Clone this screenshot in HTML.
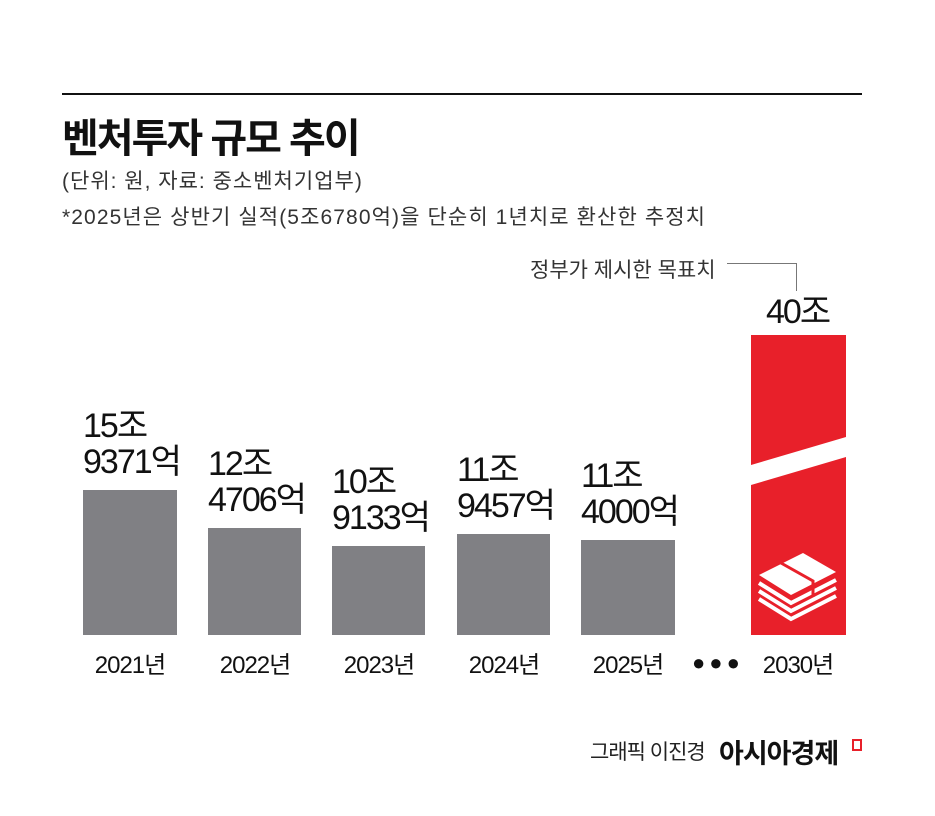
<!DOCTYPE html>
<html><head><meta charset="utf-8"><style>
body{margin:0;background:#fff;width:935px;height:816px;position:relative;overflow:hidden;font-family:"Liberation Sans","Noto Sans CJK KR",sans-serif;color:#111}
.a{position:absolute;white-space:nowrap}
.bar{position:absolute;background:#808084}
.lab{position:absolute;font-size:34px;line-height:36px;letter-spacing:-2px;text-align:left}
.yr{position:absolute;top:645px;font-size:24px;letter-spacing:-1px;width:120px;text-align:center}
</style></head><body>
<div class="a" style="left:62px;top:93px;width:800px;height:2px;background:#111"></div>
<div class="a" style="left:62px;top:106px;font-size:40px;font-weight:bold;letter-spacing:-2px">벤처투자 규모 추이</div>
<div class="a" style="left:62px;top:165px;font-size:21px;color:#333;letter-spacing:1px">(단위: 원, 자료: 중소벤처기업부)</div>
<div class="a" style="left:62px;top:201px;font-size:21px;color:#333;letter-spacing:1.1px">*2025년은 상반기 실적(5조6780억)을 단순히 1년치로 환산한 추정치</div>
<div class="a" style="left:530px;top:254px;font-size:21px;color:#333;letter-spacing:0px">정부가 제시한 목표치</div>
<div class="a" style="left:727px;top:263px;width:70px;height:1px;background:#777"></div>
<div class="a" style="left:796px;top:263px;width:1px;height:28px;background:#777"></div>

<div class="bar" style="left:83px;top:490px;width:94px;height:145px"></div>
<div class="bar" style="left:208px;top:528px;width:93px;height:107px"></div>
<div class="bar" style="left:332px;top:546px;width:93px;height:89px"></div>
<div class="bar" style="left:457px;top:534px;width:93px;height:101px"></div>
<div class="bar" style="left:581px;top:540px;width:94px;height:95px"></div>

<div class="lab" style="left:83px;top:408px">15조<br>9371억</div>
<div class="lab" style="left:208px;top:446px">12조<br>4706억</div>
<div class="lab" style="left:332px;top:464px">10조<br>9133억</div>
<div class="lab" style="left:457px;top:452px">11조<br>9457억</div>
<div class="lab" style="left:581px;top:458px">11조<br>4000억</div>
<div class="lab" style="left:766px;top:294px">40조</div>

<svg class="a" style="left:751px;top:335px" width="95" height="300" viewBox="0 0 95 300">
<rect width="95" height="300" fill="#e8202a"/>
<polygon points="0,130 95,102 95,122 0,150" fill="#fff"/>
<g fill="none" stroke="#fff" stroke-width="4">
<path d="M8,248 L40,268 L85,245"/>
<path d="M8,256 L40,276 L85,253"/>
<path d="M8,264 L40,284 L85,261"/>
</g>
<polygon points="8,240 52,218 85,237 40,260" fill="#fff"/>
<path d="M30,228 L62,246 L62,262" stroke="#e8202a" stroke-width="3" fill="none"/>
</svg>

<div class="yr" style="left:70px">2021년</div>
<div class="yr" style="left:195px">2022년</div>
<div class="yr" style="left:319px">2023년</div>
<div class="yr" style="left:444px">2024년</div>
<div class="yr" style="left:568px">2025년</div>
<div class="yr" style="left:738px">2030년</div>
<div class="a" style="left:692px;top:650px;font-size:22px;letter-spacing:4px">●●●</div>

<div class="a" style="left:590px;top:736px;font-size:21px;letter-spacing:-1px;color:#222">그래픽 이진경</div>
<div class="a" style="left:719px;top:732px;font-size:27px;font-weight:bold;letter-spacing:-1px">아시아경제</div>
<div class="a" style="left:852px;top:739px;width:6px;height:8px;border:2px solid #e8202a"></div>
</body></html>
